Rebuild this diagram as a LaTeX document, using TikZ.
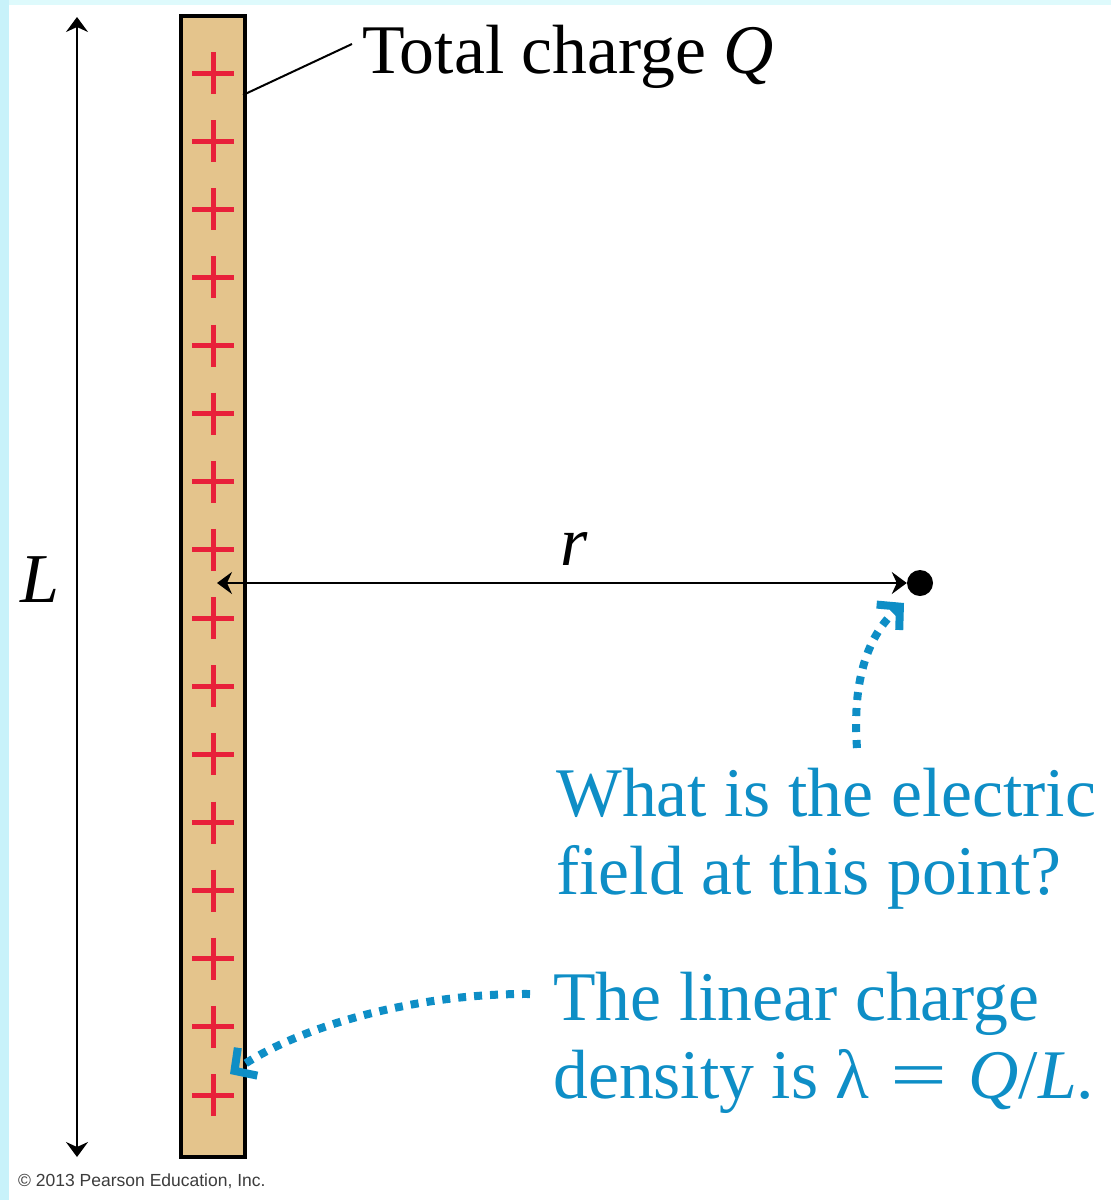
\documentclass[tikz,border=0pt]{standalone}
\usepackage{fontspec}
\usepackage{graphicx}
\setmainfont{Liberation Serif}
\newfontfamily\sansf{Liberation Sans}
\usetikzlibrary{arrows.meta}
\definecolor{rodtan}{RGB}{228,196,140}
\definecolor{plusred}{RGB}{232,32,58}
\definecolor{cueblue}{RGB}{14,142,198}
\definecolor{stripcyan}{RGB}{200,242,250}
\definecolor{stripcyanb}{RGB}{222,250,252}
\begin{document}
\begin{tikzpicture}[x=1pt,y=-1pt,
  rod/.style={draw=black,line width=4pt,fill=rodtan,minimum width=64pt,minimum height=1141pt,inner sep=0pt},
  plussign/.style={draw=plusred,line width=5pt},
  dim/.style={draw=black,line width=2pt,{Stealth[length=15pt,width=22pt,inset=5pt]}-{Stealth[length=15pt,width=22pt,inset=5pt]}},
  cue/.style={draw=cueblue,line width=8pt,dash pattern=on 8pt off 8pt,-{Straight Barb[length=16pt,width=34pt,line width=8pt]}},
  bigtxt/.style={inner sep=0pt,anchor=base west,font=\fontsize{69.7pt}{78pt}\selectfont},
  cuetxt/.style={bigtxt,text=cueblue},
  lbl/.style={inner sep=0pt,anchor=base west,font=\fontsize{70pt}{78pt}\selectfont\itshape}]
\useasboundingbox (0,0) rectangle (1111,1200);
\fill[white] (0,0) rectangle (1111,1200);
\fill[stripcyanb] (0,0) rectangle (1111,5);
\fill[stripcyan] (0,0) rectangle (9,1200);
% rod
\node[rod] (rod) at (213,586.5) {};
\foreach \yy in {73,141.1,209.3,277.4,345.5,413.7,481.8,549.9,618.1,686.2,754.3,822.5,890.6,958.7,1026.9,1095}
  \draw[plussign] (192,\yy) -- (234,\yy) (213,\yy-21) -- (213,\yy+21);
% L dimension
\coordinate (Ltop) at (77,17);
\coordinate (Lbot) at (77,1157);
\draw[dim] (Ltop) -- (Lbot);
\node[lbl] (Llab) at (20,602) {L};
% total charge
\node[bigtxt] (qlab) at (362,73) {Total charge \textit{Q}};
\coordinate (qfoot) at (243,95);
\coordinate (qhead) at (352,44);
\draw[line width=2pt] (qfoot) -- (qhead);
% r dimension and point
\node[circle,fill=black,minimum size=26pt,inner sep=0pt] (pt) at (920,583) {};
\coordinate (rstart) at (217,583);
\draw[dim] (rstart) -- (pt.west);
\node[lbl] (rlab) at (560,565) {r};
% question
\node[cuetxt] (ques1) at (556,816) {What is the electric};
\node[cuetxt] (ques2) at (556,894) {field at this point?};
\coordinate (c1s) at (857,748);
\coordinate (c1e) at (904,603);
\draw[cue] (c1s) .. controls (852,680) and (868,635) .. (c1e);
% density
\node[cuetxt] (dens1) at (553,1020) {The linear charge};
\node[cuetxt] (dens2) at (553,1098) {density is λ\hspace{0.3em}\scalebox{1.45}[1]{=}\hspace{0.3em}\textit{Q}/\textit{L}.};
\coordinate (c2s) at (530,994);
\coordinate (c2e) at (230,1074);
\draw[cue] (c2s) .. controls (420,993) and (300,1025) .. (c2e);
% copyright
\node[inner sep=0pt,anchor=base west,text={rgb,255:red,60;green,60;blue,60},font=\sansf\fontsize{17.5pt}{20pt}\selectfont] (copy) at (18,1186) {© 2013 Pearson Education, Inc.};
\end{tikzpicture}
\end{document}
